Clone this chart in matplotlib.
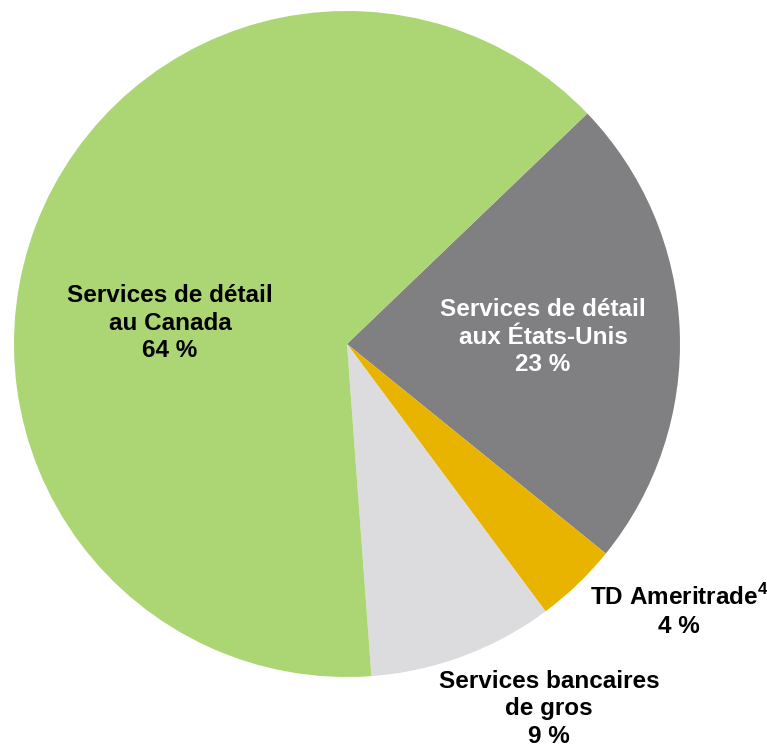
import matplotlib
matplotlib.use("Agg")
import matplotlib.pyplot as plt

labels = ["Services de détail\naux États-Unis", r"TD Ameritrade$^{\mathbf{4}}$", "Services bancaires\nde gros", "Services de détail\nau Canada"]
values = [23, 4, 9, 64]
colors = ["#808082", "#e8b400", "#dcdcde", "#acd574"]

plt.rcParams['font.family'] = ['Liberation Sans', 'DejaVu Sans']
plt.rcParams['mathtext.fontset'] = 'custom'
plt.rcParams['mathtext.bf'] = 'Liberation Sans:bold'
plt.rcParams['mathtext.rm'] = 'Liberation Sans:bold'

W, H = 767, 747
fig = plt.figure(figsize=(W/100, H/100), dpi=100)
cx, cy, r = 347, 344, 333
ax = fig.add_axes([(cx - r)/W, (H - cy - r)/H, 2*r/W, 2*r/H])
ax.pie(values, colors=colors, startangle=43.8, counterclock=False, radius=1,
       wedgeprops=dict(linewidth=0))
ax.set_xlim(-1, 1)
ax.set_ylim(-1, 1)
ax.set_aspect('equal')
ax.axis('off')

def d(px, py):
    return (px - cx)/r, (cy - py)/r

fs = 17.5
pos = [(543, 337, 'white'), (679, 611, 'black'), (549, 709, 'black'), (170, 323, 'black')]
for lab, v, (px, py, c) in zip(labels, values, pos):
    x, y = d(px, py)
    ax.text(x, y, f"{lab}\n{v} %", ha='center', va='center', fontsize=fs,
            fontweight='bold', color=c, linespacing=1.25, clip_on=False)

fig.savefig("out.png", dpi=100)
